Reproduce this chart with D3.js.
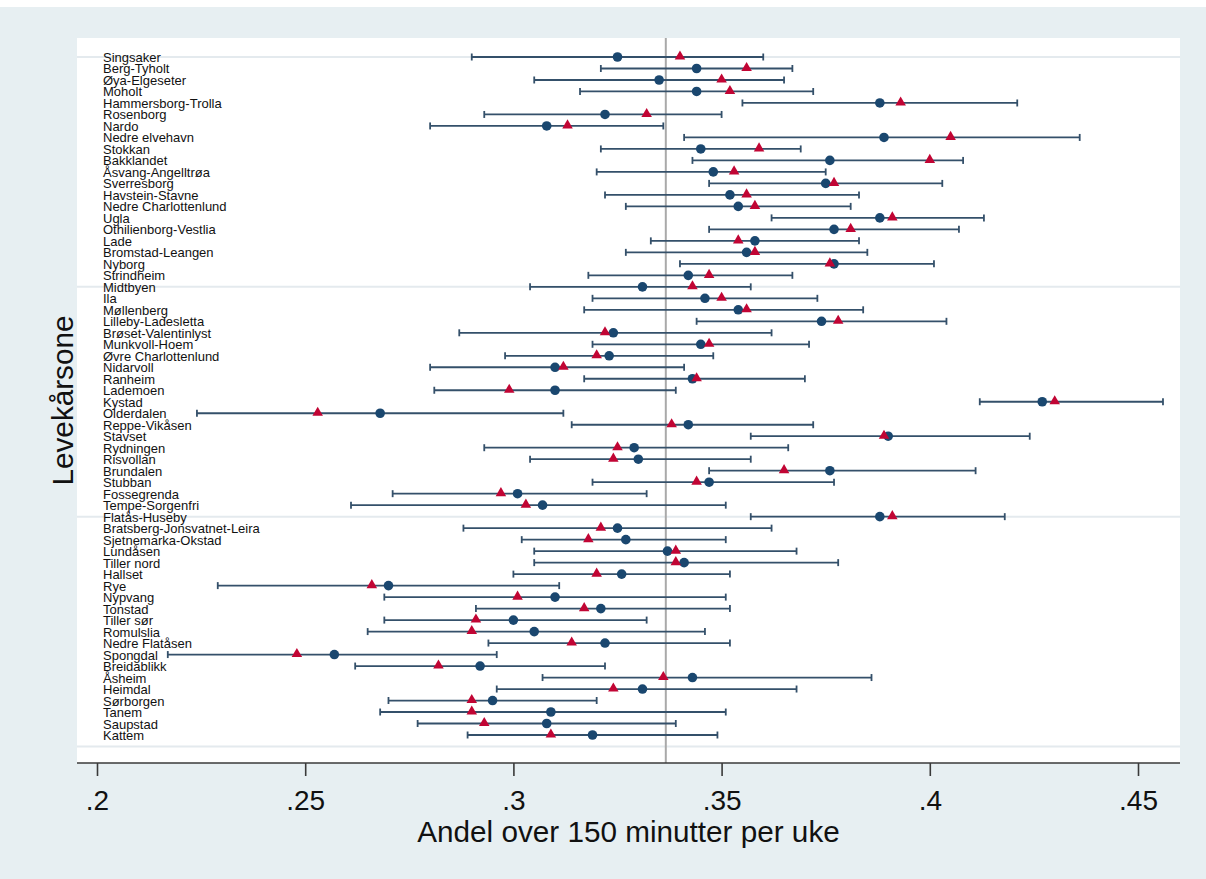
<!DOCTYPE html>
<html>
<head>
<meta charset="utf-8">
<script src="https://cdn.jsdelivr.net/npm/d3@7"></script>
<style>
  body { margin: 0; background: #fff; }
  svg { display: block; font-family: "Liberation Sans", Arial, sans-serif; }
</style>
</head>
<body>
<svg id="chart" width="1206" height="879"></svg>
<script>
// Levekårsone, top to bottom
const zones = [
  "Singsaker", "Berg-Tyholt", "Øya-Elgeseter", "Moholt", "Hammersborg-Trolla",
  "Rosenborg", "Nardo", "Nedre elvehavn", "Stokkan", "Bakklandet",
  "Åsvang-Angelltrøa", "Sverresborg", "Havstein-Stavne", "Nedre Charlottenlund", "Ugla",
  "Othilienborg-Vestlia", "Lade", "Bromstad-Leangen", "Nyborg", "Strindheim",
  "Midtbyen", "Ila", "Møllenberg", "Lilleby-Ladesletta", "Brøset-Valentinlyst",
  "Munkvoll-Hoem", "Øvre Charlottenlund", "Nidarvoll", "Ranheim", "Lademoen",
  "Kystad", "Olderdalen", "Reppe-Vikåsen", "Stavset", "Rydningen",
  "Risvollan", "Brundalen", "Stubban", "Fossegrenda", "Tempe-Sorgenfri",
  "Flatås-Huseby", "Bratsberg-Jonsvatnet-Leira", "Sjetnemarka-Okstad", "Lundåsen", "Tiller nord",
  "Hallset", "Rye", "Nypvang", "Tonstad", "Tiller sør",
  "Romulslia", "Nedre Flatåsen", "Spongdal", "Breidablikk", "Åsheim",
  "Heimdal", "Sørborgen", "Tanem", "Saupstad", "Kattem"
];

// circle estimate
const estimate = [
  .325, .344, .335, .344, .388, .322, .308, .389, .345, .376,
  .348, .375, .352, .354, .388, .377, .358, .356, .377, .342,
  .331, .346, .354, .374, .324, .345, .323, .310, .343, .310,
  .427, .268, .342, .390, .329, .330, .376, .347, .301, .307,
  .388, .325, .327, .337, .341, .326, .270, .310, .321, .300,
  .305, .322, .257, .292, .343, .331, .295, .309, .308, .319
];

// triangle estimate
const adjusted = [
  .340, .356, .350, .352, .393, .332, .313, .405, .359, .400,
  .353, .377, .356, .358, .391, .381, .354, .358, .376, .347,
  .343, .350, .356, .378, .322, .347, .320, .312, .344, .299,
  .430, .253, .338, .389, .325, .324, .365, .344, .297, .303,
  .391, .321, .318, .339, .339, .320, .266, .301, .317, .291,
  .290, .314, .248, .282, .336, .324, .290, .290, .293, .309
];

const ciLow = [
  .290, .321, .305, .316, .355, .293, .280, .341, .321, .343,
  .320, .347, .322, .327, .362, .347, .333, .327, .340, .318,
  .304, .319, .317, .344, .287, .319, .298, .280, .317, .281,
  .412, .224, .314, .357, .293, .304, .347, .319, .271, .261,
  .357, .288, .302, .305, .305, .300, .229, .269, .291, .269,
  .265, .294, .217, .262, .307, .296, .270, .268, .277, .289
];

const ciHigh = [
  .360, .367, .365, .372, .421, .350, .336, .436, .369, .408,
  .375, .403, .383, .381, .413, .407, .383, .385, .401, .367,
  .357, .373, .384, .404, .362, .371, .348, .341, .370, .339,
  .456, .312, .372, .424, .366, .357, .411, .377, .332, .351,
  .418, .362, .351, .368, .378, .352, .311, .351, .352, .332,
  .346, .352, .296, .322, .386, .368, .320, .351, .339, .349
];

const xTicks = [0.2, 0.25, 0.3, 0.35, 0.4, 0.45];
const xTickLabels = [".2", ".25", ".3", ".35", ".4", ".45"];
const refValue = 0.3366;
const gridRows = [1, 21, 41, 61];

const navy = "#1a476f";
const cranberry = "#c10534";
const barColor = "#34506a";

const svg = d3.select("#chart");
const W = 1206, H = 879;
const plot = { left: 77, right: 1180, top: 38, bottom: 763 };

// background
svg.append("rect").attr("x", 0).attr("y", 7).attr("width", W).attr("height", H - 7)
  .attr("fill", "#e7eff2");
svg.append("rect")
  .attr("x", plot.left).attr("y", plot.top)
  .attr("width", plot.right - plot.left).attr("height", plot.bottom - plot.top)
  .attr("fill", "#ffffff");

const x = d3.scaleLinear().domain([0.2, 0.45]).range([97, 1138]);
const y = d3.scaleLinear().domain([1, 60]).range([57, 735]);

const rows = zones.map((name, i) => ({
  name, row: i + 1,
  est: estimate[i], adj: adjusted[i], lo: ciLow[i], hi: ciHigh[i]
}));

// gridlines
svg.append("g").selectAll("line").data(gridRows).join("line")
  .attr("x1", plot.left).attr("x2", plot.right)
  .attr("y1", d => y(d)).attr("y2", d => y(d))
  .attr("stroke", "#e4eaee").attr("stroke-width", 2);

// reference line
svg.append("line")
  .attr("x1", x(refValue)).attr("x2", x(refValue))
  .attr("y1", plot.top).attr("y2", plot.bottom)
  .attr("stroke", "#a9a9a9").attr("stroke-width", 2);

// zone labels
svg.append("g").selectAll("text").data(rows).join("text")
  .attr("x", 103)
  .attr("y", d => y(d.row) + 5)
  .attr("font-size", 13)
  .attr("fill", "#111")
  .text(d => d.name);

// confidence intervals
const bars = svg.append("g").attr("stroke", barColor).attr("stroke-width", 1.8);
bars.selectAll("line.ci").data(rows).join("line").attr("class", "ci")
  .attr("x1", d => x(d.lo)).attr("x2", d => x(d.hi))
  .attr("y1", d => y(d.row)).attr("y2", d => y(d.row));
bars.selectAll("line.capl").data(rows).join("line").attr("class", "capl")
  .attr("x1", d => x(d.lo)).attr("x2", d => x(d.lo))
  .attr("y1", d => y(d.row) - 3.5).attr("y2", d => y(d.row) + 3.5);
bars.selectAll("line.caph").data(rows).join("line").attr("class", "caph")
  .attr("x1", d => x(d.hi)).attr("x2", d => x(d.hi))
  .attr("y1", d => y(d.row) - 3.5).attr("y2", d => y(d.row) + 3.5);

// estimates
svg.append("g").selectAll("circle").data(rows).join("circle")
  .attr("cx", d => x(d.est)).attr("cy", d => y(d.row))
  .attr("r", 4.8).attr("fill", navy);

const tri = d3.symbol().type(d3.symbolTriangle).size(48);
svg.append("g").selectAll("path").data(rows).join("path")
  .attr("transform", d => `translate(${x(d.adj)},${y(d.row) - 0.5})`)
  .attr("d", tri).attr("fill", cranberry);

// x axis
const xAxis = d3.axisBottom(x)
  .tickValues(xTicks)
  .tickSize(13)
  .tickPadding(14)
  .tickFormat((d, i) => xTickLabels[i]);

const gx = svg.append("g")
  .attr("transform", `translate(0, ${plot.bottom})`)
  .call(xAxis);
gx.select(".domain")
  .attr("d", `M${plot.left},0H${plot.right}`)
  .attr("stroke", "#3a3a3a").attr("stroke-width", 1.6);
gx.selectAll(".tick line").attr("stroke", "#3a3a3a").attr("stroke-width", 1.6);
gx.selectAll(".tick text")
  .attr("font-size", 28)
  .attr("font-family", "Liberation Sans, Arial, sans-serif")
  .attr("fill", "#111");

// axis titles
svg.append("text")
  .attr("x", (plot.left + plot.right) / 2)
  .attr("y", 842)
  .attr("text-anchor", "middle")
  .attr("font-size", 29.7)
  .attr("fill", "#111")
  .text("Andel over 150 minutter per uke");

svg.append("text")
  .attr("transform", `translate(73, ${(plot.top + plot.bottom) / 2}) rotate(-90)`)
  .attr("text-anchor", "middle")
  .attr("font-size", 29.7)
  .attr("fill", "#111")
  .text("Levekårsone");
</script>
</body>
</html>
